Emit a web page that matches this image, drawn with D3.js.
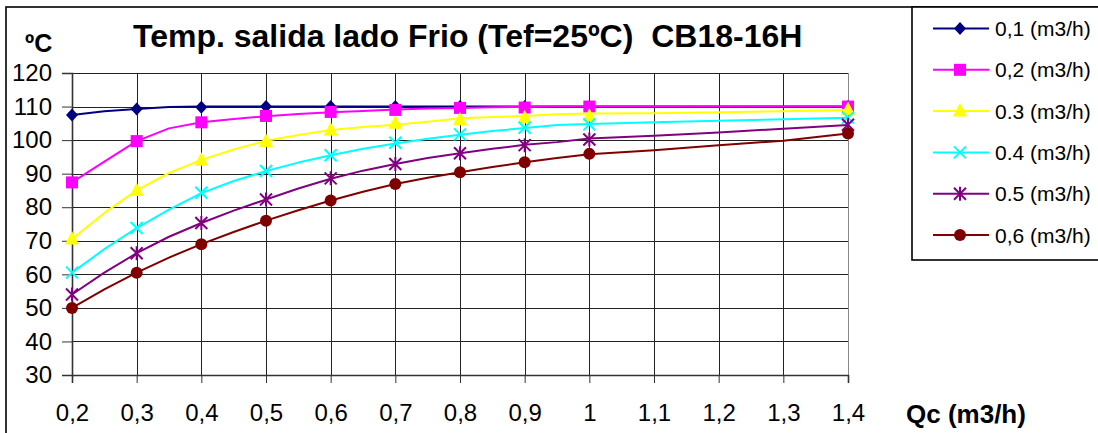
<!DOCTYPE html>
<html>
<head>
<meta charset="utf-8">
<script src="https://cdn.jsdelivr.net/npm/d3@7"></script>
<style>
  html, body { margin: 0; padding: 0; background: #fff; }
  svg { display: block; font-family: "Liberation Sans", Arial, sans-serif; }
</style>
</head>
<body>
<svg id="chart" width="1098" height="433"></svg>
<script>
// Flow on the cold side (m3/h): ticks, measured points and curve points
const tickQc = [0.2, 0.3, 0.4, 0.5, 0.6, 0.7, 0.8, 0.9, 1.0, 1.1, 1.2, 1.3, 1.4];
const tickQcLabels = ["0,2", "0,3", "0,4", "0,5", "0,6", "0,7", "0,8", "0,9", "1", "1,1", "1,2", "1,3", "1,4"];
const tempTicks = [30, 40, 50, 60, 70, 80, 90, 100, 110, 120];

const markerQc = [0.2, 0.3, 0.4, 0.5, 0.6, 0.7, 0.8, 0.9, 1.0, 1.4];
const curveQc = [0.2, 0.25, 0.3, 0.35, 0.4, 0.45, 0.5, 0.55, 0.6, 0.65, 0.7, 0.75,
                 0.8, 0.85, 0.9, 0.95, 1.0, 1.1, 1.2, 1.3, 1.4];

const seriesNames = ["0,1 (m3/h)", "0,2 (m3/h)", "0.3 (m3/h)", "0.4 (m3/h)", "0.5 (m3/h)", "0,6 (m3/h)"];
const seriesColors = ["#000080", "#FF00FF", "#FFFF00", "#00FFFF", "#800080", "#800000"];
const seriesSymbols = ["diamond", "square", "triangle", "cross", "star", "circle"];

// Outlet temperature (ºC) at the measured points
const mark01 = [107.5, 109.3, 109.8, 110, 110, 110, 110, 110, 110, 110];
const mark02 = [87.4, 99.7, 105.3, 107.2, 108.4, 109.0, 109.6, 109.7, 110, 110];
const mark03 = [70.5, 85.0, 94.0, 99.6, 103.0, 105.0, 106.1, 106.7, 107.2, 109.1];
const mark04 = [60.5, 73.8, 84.3, 90.8, 95.5, 99.2, 101.7, 103.7, 104.7, 106.7];
const mark05 = [54.0, 66.3, 75.3, 82.3, 88.6, 92.9, 96.1, 98.5, 100.2, 104.6];
const mark06 = [50.0, 60.5, 69.0, 76.0, 82.0, 86.9, 90.4, 93.4, 95.9, 102.0];

// Outlet temperature (ºC) along the fitted curves
const curve01 = [107.5, 108.6, 109.3, 109.9, 110, 110, 110, 110, 110, 110, 110, 110,
                 110, 110, 110, 110, 110, 110, 110, 110, 110];
const curve02 = [87.4, 93.6, 99.7, 103.5, 105.3, 106.3, 107.1, 107.8, 108.3, 108.7, 109.1, 109.4,
                 109.6, 109.8, 109.9, 110, 110, 110, 110, 110, 110];
const curve03 = [70.5, 78.3, 85.0, 90.2, 94.1, 97.2, 99.8, 101.5, 103.0, 103.9, 104.6, 105.5,
                 106.5, 106.9, 107.2, 107.7, 107.9, 108.0, 108.3, 108.6, 109.0];
const curve04 = [60.5, 67.5, 73.8, 79.3, 84.2, 87.8, 90.8, 93.3, 95.5, 97.4, 99.0, 100.4,
                 101.6, 102.7, 103.6, 104.5, 104.8, 105.3, 105.8, 106.2, 106.7];
const curve05 = [54.0, 60.5, 66.3, 71.2, 75.3, 79.0, 82.3, 85.6, 88.5, 90.9, 92.9, 94.7,
                 96.1, 97.4, 98.6, 99.4, 100.5, 101.3, 102.3, 103.4, 104.5];
const curve06 = [50.0, 55.5, 60.5, 65.0, 69.0, 72.6, 76.0, 79.1, 82.0, 84.6, 86.9, 88.8,
                 90.4, 92.0, 93.4, 94.7, 95.8, 97.0, 98.5, 99.8, 102.0];

const markSets = [mark01, mark02, mark03, mark04, mark05, mark06];
const curveSets = [curve01, curve02, curve03, curve04, curve05, curve06];

const svg = d3.select("#chart");

// Chart frame
svg.append("rect")
  .attr("x", 6).attr("y", 7).attr("width", 1200).attr("height", 500)
  .attr("fill", "none").attr("stroke", "#000").attr("stroke-width", 1.6);

const x = d3.scaleLinear().domain([0.2, 1.4]).range([72, 848]);
const y = d3.scaleLinear().domain([30, 120]).range([375, 73]);

// Grid
const grid = svg.append("g").attr("shape-rendering", "crispEdges");
grid.selectAll("line.h").data(tempTicks).join("line")
  .attr("class", "h")
  .attr("x1", x(0.2)).attr("x2", x(1.4))
  .attr("y1", d => Math.round(y(d)) + 0.5).attr("y2", d => Math.round(y(d)) + 0.5)
  .attr("stroke", "#222").attr("stroke-width", 1);
grid.selectAll("line.v").data(tickQc).join("line")
  .attr("class", "v")
  .attr("y1", y(120)).attr("y2", y(30))
  .attr("x1", d => Math.round(x(d)) + 0.5).attr("x2", d => Math.round(x(d)) + 0.5)
  .attr("stroke", (d, i) => i === tickQc.length - 1 ? "#888" : "#222").attr("stroke-width", 1);

// Axes
const yAxis = d3.axisLeft(y).tickValues(tempTicks).tickSize(10).tickPadding(10).tickFormat(d3.format("d"));
const gy = svg.append("g").attr("transform", `translate(${x(0.2)},0)`).call(yAxis);
gy.select(".domain").attr("stroke", "#333").attr("stroke-width", 1.6);
gy.selectAll(".tick line").attr("stroke", "#333");
gy.selectAll(".tick text")
  .attr("font-family", "'Liberation Sans', Arial, sans-serif")
  .attr("font-size", 24).attr("fill", "#000");

const xAxis = d3.axisBottom(x).tickValues(tickQc).tickSize(8).tickPadding(21)
  .tickFormat((d, i) => tickQcLabels[i]);
const gx = svg.append("g").attr("transform", `translate(0,${y(30)})`).call(xAxis);
gx.select(".domain").attr("stroke", "#333").attr("stroke-width", 1.6);
gx.selectAll(".tick line").attr("stroke", "#333");
gx.selectAll(".tick text")
  .attr("font-family", "'Liberation Sans', Arial, sans-serif")
  .attr("font-size", 24).attr("fill", "#000");

// Marker shapes
function drawMarker(g, type, color, cx, cy) {
  if (type === "diamond") {
    g.append("path").attr("d", `M${cx},${cy - 6.5}L${cx + 6},${cy}L${cx},${cy + 6.5}L${cx - 6},${cy}Z`)
      .attr("fill", color);
  } else if (type === "square") {
    g.append("rect").attr("x", cx - 6).attr("y", cy - 6).attr("width", 12).attr("height", 12)
      .attr("fill", color);
  } else if (type === "triangle") {
    g.append("path").attr("d", `M${cx},${cy - 8}L${cx + 7},${cy + 5.5}L${cx - 7},${cy + 5.5}Z`)
      .attr("fill", color);
  } else if (type === "cross") {
    g.append("path").attr("d", `M${cx - 6},${cy - 6}L${cx + 6},${cy + 6}M${cx + 6},${cy - 6}L${cx - 6},${cy + 6}`)
      .attr("stroke", color).attr("stroke-width", 2).attr("fill", "none");
  } else if (type === "star") {
    g.append("path").attr("d", `M${cx - 6},${cy - 6}L${cx + 6},${cy + 6}M${cx + 6},${cy - 6}L${cx - 6},${cy + 6}M${cx},${cy - 7}L${cx},${cy + 7}`)
      .attr("stroke", color).attr("stroke-width", 2).attr("fill", "none");
  } else if (type === "circle") {
    g.append("circle").attr("cx", cx).attr("cy", cy).attr("r", 6).attr("fill", color);
  }
}

// Series: curve then its markers
const line = d3.line().x(d => x(d[0])).y(d => y(d[1]));
seriesNames.forEach((name, i) => {
  const g = svg.append("g");
  g.append("path")
    .attr("d", line(curveQc.map((q, k) => [q, curveSets[i][k]])))
    .attr("fill", "none").attr("stroke", seriesColors[i]).attr("stroke-width", 2)
    .attr("stroke-linejoin", "round");
  markerQc.forEach((q, k) => drawMarker(g, seriesSymbols[i], seriesColors[i], x(q), y(markSets[i][k])));
});

// Titles
svg.append("text")
  .attr("x", 133).attr("y", 47)
  .attr("font-size", 32).attr("font-weight", "bold")
  .style("white-space", "pre")
  .text("Temp. salida lado Frio (Tef=25ºC)  CB18-16H");
svg.append("text")
  .attr("x", 25).attr("y", 52)
  .attr("font-size", 25).attr("font-weight", "bold")
  .text("ºC");
svg.append("text")
  .attr("x", 906).attr("y", 423)
  .attr("font-size", 26).attr("font-weight", "bold")
  .text("Qc (m3/h)");

// Legend
const legend = svg.append("g");
legend.append("rect")
  .attr("x", 912).attr("y", 7).attr("width", 300).attr("height", 253)
  .attr("fill", "#fff").attr("stroke", "#000").attr("stroke-width", 1.6);
seriesNames.forEach((name, i) => {
  const ly = 28.5 + i * 41.3;
  legend.append("line").attr("x1", 933).attr("x2", 989).attr("y1", ly).attr("y2", ly)
    .attr("stroke", seriesColors[i]).attr("stroke-width", 2);
  drawMarker(legend, seriesSymbols[i], seriesColors[i], 960, ly);
  legend.append("text").attr("x", 995).attr("y", ly).attr("dy", "0.36em")
    .attr("font-size", 21).text(name);
});
</script>
</body>
</html>
